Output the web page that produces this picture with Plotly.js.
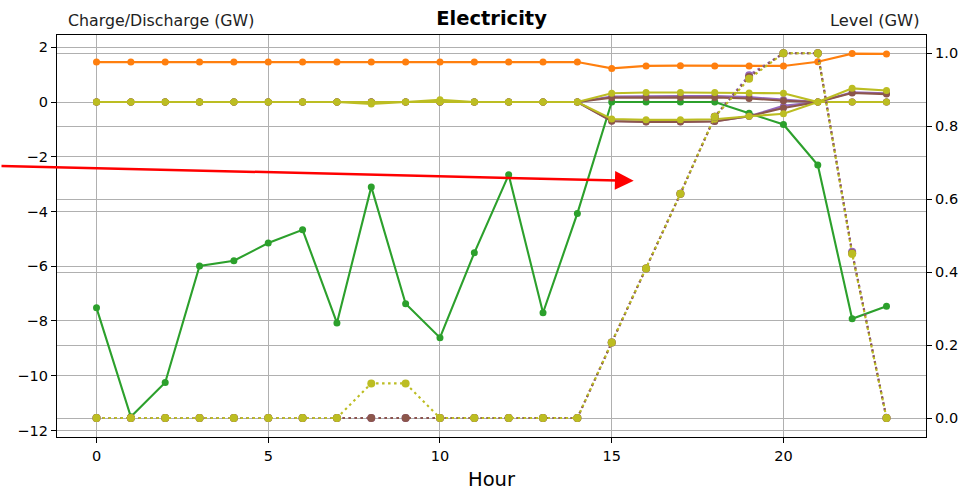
<!DOCTYPE html>
<html>
<head>
<meta charset="utf-8">
<script src="https://cdn.plot.ly/plotly-3.0.1.min.js"></script>
<style>
  html, body { margin: 0; padding: 0; background: #ffffff; }
  #chart { width: 966px; height: 491px; }
</style>
</head>
<body>
<div id="chart"></div>
<script>
// Hourly electricity balance: charge/discharge flows (left axis) and storage levels (right axis)
const hours = [0,1,2,3,4,5,6,7,8,9,10,11,12,13,14,15,16,17,18,19,20,21,22,23];

const supplyGW = [1.46,1.46,1.46,1.46,1.46,1.46,1.46,1.46,1.46,1.46,1.46,1.46,1.46,1.46,1.46,
                  1.23,1.32,1.33,1.32,1.32,1.32,1.47,1.77,1.76];
const netFlowGW = [-7.52,-11.5,-10.25,-5.99,-5.80,-5.15,-4.67,-8.07,-3.10,-7.37,-8.61,-5.51,-2.66,-7.70,-4.07,
                   0,0,0,0,-0.41,-0.82,-2.30,-7.92,-7.46];

const storeACharge    = [0,0,0,0,0,0,0,0,0,0,0,0,0,0,0,-0.69,-0.72,-0.72,-0.70,-0.52,-0.14,0,0,0];
const storeADischarge = [0,0,0,0,0,0,0,0,0,0,0,0,0,0,0,0.20,0.22,0.22,0.22,0.18,0.09,0,0.36,0.32];
const storeBCharge    = [0,0,0,0,0,0,0,0,0,0,0,0,0,0,0,-0.70,-0.73,-0.73,-0.71,-0.52,-0.22,0,0,0];
const storeBDischarge = [0,0,0,0,0,0,0,0,0,0,0,0,0,0,0,0.16,0.17,0.17,0.17,0.13,0.05,0,0.33,0.29];
const storeCCharge    = [0,0,0,0,0,0,0,0,-0.07,0,0,0,0,0,0,-0.62,-0.65,-0.65,-0.63,-0.52,-0.43,0,0,0];
const storeCDischarge = [0,0,0,0,0,0,0,0,0,0,0.08,0,0,0,0,0.32,0.35,0.35,0.35,0.33,0.32,0,0.50,0.42];

const storeALevel = [0,0,0,0,0,0,0,0,0,0,0,0,0,0,0,0.207,0.41,0.615,0.826,0.94,1.0,1.0,0.456,0];
const storeBLevel = [0,0,0,0,0,0,0,0,0,0,0,0,0,0,0,0.207,0.41,0.615,0.826,0.935,1.0,1.0,0.452,0];
const storeCLevel = [0,0,0,0,0,0,0,0,0.095,0.095,0,0,0,0,0,0.207,0.41,0.615,0.826,0.93,1.0,1.0,0.45,0];

const C = {
  orange: '#ff7f0e', green: '#2ca02c', purple: '#9467bd',
  brown: '#8c564b', olive: '#bcbd22'
};

function flow(y, color) {
  return {
    x: hours, y: y, type: 'scatter', mode: 'lines+markers', yaxis: 'y',
    line: { color: color, width: 2.1 },
    marker: { color: color, size: 7 },
    hoverinfo: 'x+y'
  };
}
function level(y, color) {
  return {
    x: hours, y: y, type: 'scatter', mode: 'lines+markers', yaxis: 'y2',
    line: { color: color, width: 2.1, dash: '2.5px,3.5px' },
    marker: { color: color, size: 8 },
    hoverinfo: 'x+y'
  };
}

const traces = [
  flow(supplyGW, C.orange),
  flow(netFlowGW, C.green),
  flow(storeACharge, C.purple),
  flow(storeADischarge, C.purple),
  flow(storeBCharge, C.brown),
  flow(storeBDischarge, C.brown),
  flow(storeCCharge, C.olive),
  flow(storeCDischarge, C.olive),
  level(storeALevel, C.purple),
  level(storeBLevel, C.brown),
  level(storeCLevel, C.olive)
];

const font = 'DejaVu Sans, sans-serif';
const gridColor = '#b0b0b0';

const layout = {
  width: 966, height: 491,
  margin: { l: 57, r: 40, t: 35, b: 54 },
  paper_bgcolor: '#ffffff', plot_bgcolor: '#ffffff',
  showlegend: false,
  font: { family: font, size: 14.5, color: '#000000' },
  title: {
    text: '<b>Electricity</b>',
    font: { family: font, size: 19.5, color: '#000000' },
    x: 0.5, xref: 'paper', xanchor: 'center',
    y: 1 - 18 / 491, yref: 'container', yanchor: 'middle'
  },
  xaxis: {
    range: [-1.15, 24.15], tickmode: 'linear', tick0: 0, dtick: 5,
    showgrid: true, gridcolor: gridColor, gridwidth: 1, zeroline: false,
    showline: true, linecolor: '#000000', linewidth: 1.2, mirror: true,
    ticks: 'outside', ticklen: 5, tickcolor: '#000000', tickwidth: 1,
    tickfont: { family: font, size: 14.5, color: '#000000' },
    title: { text: 'Hour', font: { family: font, size: 19.5, color: '#000000' }, standoff: 11 }
  },
  yaxis: {
    range: [-12.24, 2.45], tickmode: 'linear', tick0: 0, dtick: 2,
    showgrid: true, gridcolor: gridColor, gridwidth: 1, zeroline: false,
    showline: true, linecolor: '#000000', linewidth: 1.2,
    ticks: 'outside', ticklen: 5, tickcolor: '#000000', tickwidth: 1,
    tickfont: { family: font, size: 14.5, color: '#000000' }
  },
  yaxis2: {
    overlaying: 'y', side: 'right',
    range: [-0.052, 1.05], tickmode: 'linear', tick0: 0, dtick: 0.2, tickformat: '.1f',
    showgrid: true, gridcolor: gridColor, gridwidth: 1, zeroline: false,
    showline: true, linecolor: '#000000', linewidth: 1.2,
    ticks: 'outside', ticklen: 5, tickcolor: '#000000', tickwidth: 1,
    tickfont: { family: font, size: 14.5, color: '#000000' }
  },
  annotations: [
    {
      text: 'Charge/Discharge (GW)', showarrow: false,
      xref: 'paper', yref: 'paper', x: (161 - 57) / 869, y: 1 + 15 / 402,
      xanchor: 'center', yanchor: 'middle',
      font: { family: font, size: 15.8, color: '#222222' }
    },
    {
      text: 'Level (GW)', showarrow: false,
      xref: 'paper', yref: 'paper', x: (875 - 57) / 869, y: 1 + 15 / 402,
      xanchor: 'center', yanchor: 'middle',
      font: { family: font, size: 16.3, color: '#222222' }
    },
    {
      // red pointer ending just right of the 15h gridline
      text: '', showarrow: true,
      xref: 'x', yref: 'y', x: 15.64, y: -2.88,
      axref: 'pixel', ayref: 'pixel', ax: -640, ay: -15,
      arrowcolor: '#ff0000', arrowwidth: 2.5, arrowhead: 2, arrowsize: 1.5,
      standoff: 0, startstandoff: 0
    }
  ]
};

Plotly.newPlot('chart', traces, layout, { staticPlot: true, displayModeBar: false });
</script>
</body>
</html>
